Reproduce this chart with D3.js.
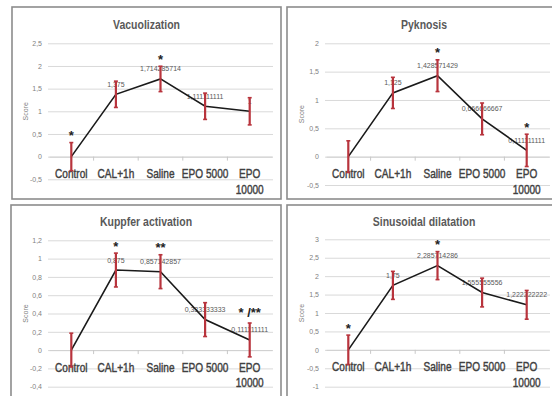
<!DOCTYPE html>
<html>
<head>
<meta charset="utf-8">
<script src="https://cdn.jsdelivr.net/npm/d3@7/dist/d3.min.js"></script>
<style>
  html, body { margin: 0; padding: 0; background: #fff; }
  svg { display: block; }
  .title { font-family: "Liberation Sans", Arial, sans-serif; font-weight: bold; font-size: 12.5px; fill: #595959; }
  .cat { font-family: "Liberation Sans", Arial, sans-serif; font-size: 12px; fill: #404040; stroke: #404040; stroke-width: 0.4px; }
  .tick text { font-family: "Liberation Sans", Arial, sans-serif; font-size: 7px; fill: #7f7f7f; }
  .ylab { font-family: "Liberation Sans", Arial, sans-serif; font-size: 7px; fill: #7f7f7f; }
  .dlab { font-family: "Liberation Sans", Arial, sans-serif; font-size: 7px; fill: #595959; }
  .sig { font-family: "Liberation Sans", Arial, sans-serif; font-weight: bold; font-size: 13px; fill: #222; }
</style>
</head>
<body>
<svg id="chart" width="552" height="396"></svg>
<script>
// Treatment groups shared by all four histology scores
const categories = ["Control", "CAL+1h", "Saline", "EPO 5000", "EPO 10000"];
const categoryLines = [["Control"], ["CAL+1h"], ["Saline"], ["EPO 5000"], ["EPO", "10000"]];

// Mean scores and error bar half-widths
const vacuolization = [0, 1.375, 1.714285714, 1.111111111, 1];
const vacuolizationErr = [0.31, 0.29, 0.28, 0.29, 0.30];
const vacuolizationTicks = [-0.5, 0, 0.5, 1, 1.5, 2, 2.5];
const vacuolizationSig = ["*", "", "*", "", ""];

const pyknosis = [0, 1.125, 1.428571429, 0.666666667, 0.111111111];
const pyknosisErr = [0.28, 0.275, 0.28, 0.28, 0.285];
const pyknosisTicks = [-0.5, 0, 0.5, 1, 1.5, 2];
const pyknosisSig = ["", "", "*", "", "*"];

const kupffer = [0, 0.875, 0.857142857, 0.333333333, 0.111111111];
const kupfferErr = [0.185, 0.185, 0.185, 0.185, 0.185];
const kupfferTicks = [-0.4, -0.2, 0, 0.2, 0.4, 0.6, 0.8, 1, 1.2];
const kupfferSig = ["", "*", "**", "", "* /**"];

const sinusoidal = [0, 1.75, 2.285714286, 1.555555556, 1.222222222];
const sinusoidalErr = [0.4, 0.38, 0.38, 0.39, 0.39];
const sinusoidalTicks = [-1, -0.5, 0, 0.5, 1, 1.5, 2, 2.5, 3];
const sinusoidalSig = ["*", "", "*", "", ""];

// Panel geometry
const panels = [
  { title: "Vacuolization", values: vacuolization, err: vacuolizationErr, ticks: vacuolizationTicks, sig: vacuolizationSig,
    box: [12, 7, 269, 192], plotX: [49, 272], plotY: [179.3, 43.3], titleY: 28.5, scoreX: 28 },
  { title: "Pyknosis", values: pyknosis, err: pyknosisErr, ticks: pyknosisTicks, sig: pyknosisSig,
    box: [287, 7, 274, 192], plotX: [326, 549], plotY: [185, 43.3], titleY: 28.5, scoreX: 304 },
  { title: "Kuppfer activation", values: kupffer, err: kupfferErr, ticks: kupfferTicks, sig: kupfferSig,
    box: [11, 205, 270, 200], plotX: [49, 272], plotY: [386.7, 240.3], titleY: 225.5, scoreX: 28 },
  { title: "Sinusoidal dilatation", values: sinusoidal, err: sinusoidalErr, ticks: sinusoidalTicks, sig: sinusoidalSig,
    box: [287, 205, 274, 200], plotX: [326, 549], plotY: [386.7, 239.3], titleY: 225.5, scoreX: 304 }
];

const fmt = v => String(+v.toFixed(9)).replace(".", ",");
const svg = d3.select("#chart");
const narrow = 0.84; // horizontal squeeze for the condensed look of titles and category names

panels.forEach(p => {
  const g = svg.append("g");
  const [bx, by, bw, bh] = p.box;

  g.append("rect")
    .attr("x", bx).attr("y", by).attr("width", bw).attr("height", bh)
    .attr("fill", "#fff").attr("stroke", "#8c8c8c").attr("stroke-width", 1.6);

  const x = d3.scaleBand().domain(categories).range(p.plotX).padding(0);
  const y = d3.scaleLinear().domain(d3.extent(p.ticks)).range(p.plotY);

  // Title
  g.append("g")
    .attr("transform", `translate(${bx + bw / 2},${p.titleY}) scale(${narrow},1)`)
    .append("text").attr("class", "title")
    .attr("text-anchor", "middle").text(p.title);

  // Gridlines and value axis
  const yAxis = d3.axisLeft(y)
    .tickValues(p.ticks)
    .tickSize(-(p.plotX[1] - p.plotX[0] + 2))
    .tickPadding(6)
    .tickFormat(fmt);
  const ya = g.append("g").attr("transform", `translate(${p.plotX[0] - 1},0)`).call(yAxis);
  ya.select(".domain").remove();
  ya.selectAll(".tick line").attr("stroke", "#d9d9d9").attr("stroke-width", 1);

  // Category axis at zero with small ticks
  const xAxis = d3.axisBottom(x).tickSize(0).tickFormat("");
  const xa = g.append("g").attr("transform", `translate(0,${y(0)})`).call(xAxis);
  xa.select(".domain").attr("stroke", "#d0d0d0");
  xa.selectAll(".bandtick")
    .data(categories.slice(1))
    .join("line")
    .attr("x1", d => x(d)).attr("x2", d => x(d))
    .attr("y1", 0).attr("y2", 4)
    .attr("stroke", "#c8c8c8");

  // Y axis title
  g.append("text").attr("class", "ylab")
    .attr("transform", `translate(${p.scoreX},${(p.plotY[0] + p.plotY[1]) / 2}) rotate(-90)`)
    .attr("text-anchor", "middle").text("Score");

  const cx = i => x(categories[i]) + x.bandwidth() / 2;

  // Category labels
  categories.forEach((c, i) => {
    const t = g.append("g")
      .attr("transform", `translate(${cx(i)},${y(0) + 21.5}) scale(${narrow},1)`)
      .append("text").attr("class", "cat")
      .attr("text-anchor", "middle");
    categoryLines[i].forEach((line, j) => {
      t.append("tspan").attr("x", 0).attr("dy", j ? 15.5 : 0).text(line);
    });
  });

  // Data labels (the zero control mean sits behind its error bar, so it carries none)
  g.selectAll(".dlab").data(p.values).join("text")
    .attr("class", "dlab")
    .attr("x", (d, i) => cx(i))
    .attr("y", d => y(d) - 7.5)
    .attr("text-anchor", "middle")
    .text(d => d === 0 ? "" : fmt(d));

  // Mean line
  g.append("path")
    .datum(p.values)
    .attr("d", d3.line().x((d, i) => cx(i)).y(d => y(d)))
    .attr("fill", "none").attr("stroke", "#1a1a1a").attr("stroke-width", 1.6);

  // Error bars
  const eb = g.selectAll(".eb").data(p.values).join("g");
  eb.append("line")
    .attr("x1", (d, i) => cx(i)).attr("x2", (d, i) => cx(i))
    .attr("y1", (d, i) => y(d + p.err[i])).attr("y2", (d, i) => y(d - p.err[i]))
    .attr("stroke", "#b8343d").attr("stroke-width", 2.2);
  [1, -1].forEach(s => {
    eb.append("line")
      .attr("x1", (d, i) => cx(i) - 2).attr("x2", (d, i) => cx(i) + 2)
      .attr("y1", (d, i) => y(d + s * p.err[i])).attr("y2", (d, i) => y(d + s * p.err[i]))
      .attr("stroke", "#b8343d").attr("stroke-width", 1.6);
  });

  // Significance marks
  g.selectAll(".sig").data(p.sig).join("text")
    .attr("class", "sig")
    .attr("x", (d, i) => cx(i))
    .attr("y", (d, i) => y(p.values[i] + p.err[i]) - (d.includes("/") ? 6 : 2.5))
    .attr("text-anchor", "middle")
    .text(d => d);
});
</script>
</body>
</html>
